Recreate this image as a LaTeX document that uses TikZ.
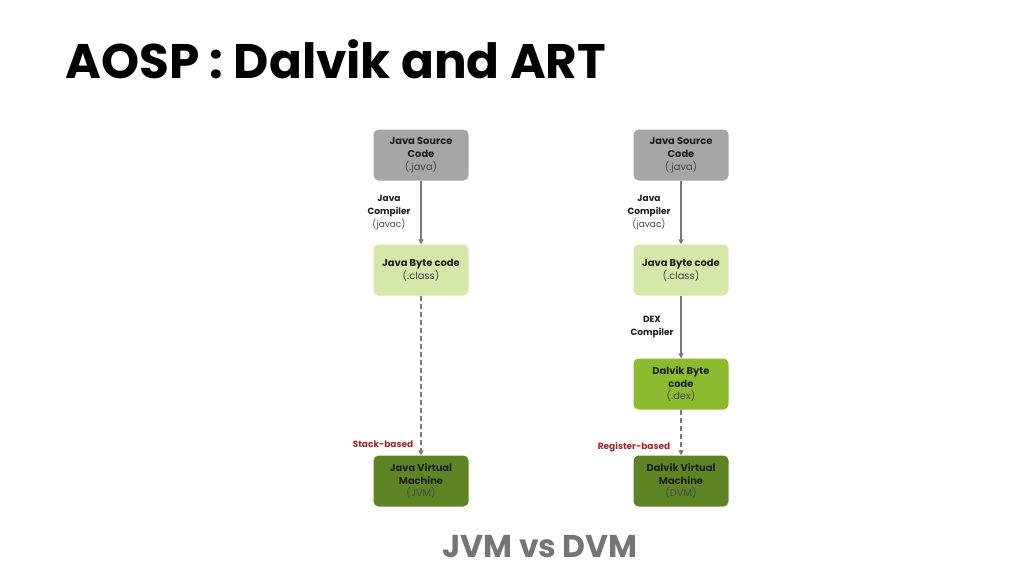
\documentclass[tikz,border=0pt]{standalone}
\usepackage{fontspec}
\setmainfont{Poppins}
\usetikzlibrary{arrows.meta}
\definecolor{boxgray}{HTML}{A6A6A6}
\definecolor{lightgreen}{HTML}{D6E8A9}
\definecolor{midgreen}{HTML}{8DBB2F}
\definecolor{darkgreen}{HTML}{5F8424}
\definecolor{txtdark}{HTML}{1E1E1E}
\definecolor{txtsub}{HTML}{474747}
\definecolor{arrowgray}{HTML}{7A7A7A}
\definecolor{labred}{HTML}{A3262E}
\definecolor{subgray}{HTML}{757575}
\begin{document}
\begin{tikzpicture}[x=1pt,y=-1pt,
  box/.style={rounded corners=5pt, minimum width=95pt, minimum height=51pt, inner sep=0pt,
    align=center, font=\fontsize{9.9}{12.8}\selectfont\bfseries, text=txtdark},
  conn/.style={draw=arrowgray, line width=1.6pt, -{Triangle[length=5pt,width=5pt]}},
  dconn/.style={conn, dash pattern=on 5pt off 3pt},
  lab/.style={align=center, font=\fontsize{9}{13}\selectfont\bfseries, text=txtdark},
  redlab/.style={font=\fontsize{9}{12}\selectfont\bfseries, text=labred}]
\useasboundingbox (0,0) rectangle (1024,576);
\node[anchor=base west, font=\fontsize{48.5}{52}\selectfont\bfseries, text=black] (title) at (62,78) {AOSP : Dalvik and ART};
\node[font=\fontsize{31.5}{34}\selectfont\bfseries, text=subgray] (sub) at (540,547) {JVM vs DVM};
% left column
\node[box, fill=boxgray] (ls) at (421,155) {Java Source\\Code\\{\mdseries\color{txtsub}(.java)}};
\node[box, fill=lightgreen] (lb) at (421,270) {Java Byte code\\{\mdseries\color{txtsub}(.class)}};
\node[box, fill=darkgreen] (lj) at (421,481) {Java Virtual\\Machine\\{\mdseries\color{txtsub}(JVM)}};
% right column
\node[box, fill=boxgray] (rs) at (681,155) {Java Source\\Code\\{\mdseries\color{txtsub}(.java)}};
\node[box, fill=lightgreen] (rb) at (681,270) {Java Byte code\\{\mdseries\color{txtsub}(.class)}};
\node[box, fill=midgreen] (rd) at (681,384) {Dalvik Byte\\code\\{\mdseries\color{txtsub}(.dex)}};
\node[box, fill=darkgreen] (rv) at (681,481) {Dalvik Virtual\\Machine\\{\mdseries\color{txtsub}(DVM)}};
% connectors
\draw[conn] (ls) -- (lb);
\draw[dconn] (lb) -- (lj);
\draw[conn] (rs) -- (rb);
\draw[conn] (rb) -- (rd);
\draw[dconn] (rd) -- (rv);
% labels
\node[lab] (lc) at (389,213) {Java\\Compiler\\{\mdseries\color{txtsub}(javac)}};
\node[lab] (rc) at (649,213) {Java\\Compiler\\{\mdseries\color{txtsub}(javac)}};
\node[lab] (dc) at (652,327) {DEX\\Compiler};
\node[redlab] (sb) at (383,444) {Stack-based};
\node[redlab] (rgb) at (634,447) {Register-based};
\end{tikzpicture}
\end{document}
